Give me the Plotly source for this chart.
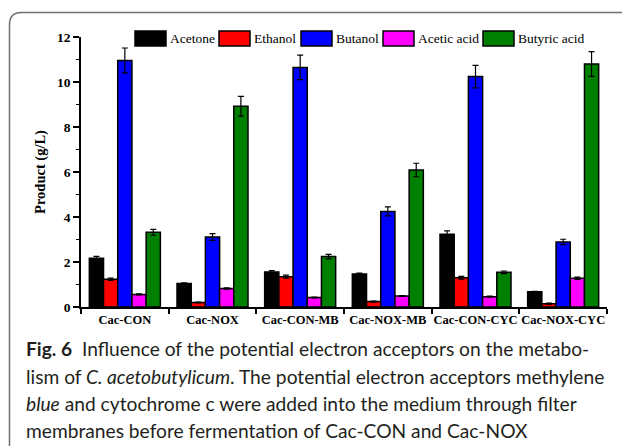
import plotly.graph_objects as go

categories = ["Cac-CON", "Cac-NOX", "Cac-CON-MB", "Cac-NOX-MB", "Cac-CON-CYC", "Cac-NOX-CYC"]
series_names = ["Acetone", "Ethanol", "Butanol", "Acetic acid", "Butyric acid"]
series_colors = ["#000000", "#ff0000", "#0000ff", "#ff00ff", "#008000"]

acetone = [2.17, 1.04, 1.56, 1.47, 3.23, 0.68]
acetone_err = [0.08, 0.03, 0.06, 0.04, 0.15, 0.02]
ethanol = [1.23, 0.20, 1.35, 0.24, 1.30, 0.15]
ethanol_err = [0.05, 0.02, 0.07, 0.02, 0.06, 0.02]
butanol = [10.96, 3.11, 10.65, 4.25, 10.24, 2.89]
butanol_err = [0.55, 0.15, 0.54, 0.20, 0.50, 0.12]
acetic = [0.56, 0.82, 0.42, 0.49, 0.46, 1.28]
acetic_err = [0.02, 0.03, 0.02, 0.02, 0.02, 0.05]
butyric = [3.32, 8.92, 2.24, 6.09, 1.54, 10.80]
butyric_err = [0.13, 0.44, 0.10, 0.30, 0.06, 0.55]

values = [acetone, ethanol, butanol, acetic, butyric]
errors = [acetone_err, ethanol_err, butanol_err, acetic_err, butyric_err]

caption_lines = [
    "<b>Fig. 6</b>  Influence of the potential electron acceptors on the metabo-",
    "lism of <i>C. acetobutylicum</i>. The potential electron acceptors methylene",
    "<i>blue</i> and cytochrome c were added into the medium through filter",
    "membranes before fermentation of Cac-CON and Cac-NOX",
]

W, H = 622, 446
ML, MR, MT, MB = 81, 15, 37, 139
PW = W - ML - MR
PH = H - MT - MB

def px(x):
    return (x - ML) / PW

def py(y):
    return (H - MB - y) / PH

serif = "Liberation Serif"
fig = go.Figure()
for name, col, v, e in zip(series_names, series_colors, values, errors):
    fig.add_trace(go.Bar(
        x=categories, y=v, name=name, showlegend=False,
        marker=dict(color=col, line=dict(color="black", width=1.5)),
        error_y=dict(type="data", array=e, visible=True, color="black",
                     thickness=1.2, width=3),
    ))

fig.update_layout(
    width=W, height=H,
    margin=dict(l=ML, r=MR, t=MT, b=MB),
    paper_bgcolor="white", plot_bgcolor="white",
    barmode="group", bargap=0.19, bargroupgap=0,
    font=dict(family=serif, color="black"),
)
fig.update_xaxes(
    showline=True, linecolor="black", linewidth=1.5, showgrid=False,
    ticks="outside", tickson="boundaries", ticklen=5, tickwidth=1.5, tickcolor="black",
    tickfont=dict(family=serif, size=12.5, color="black"), tickangle=0,
    tickprefix="<b>", ticksuffix="</b>",
    range=[-0.5, 5.5],
)
fig.update_yaxes(
    range=[0, 12], showline=True, linecolor="black", linewidth=1.5, showgrid=False,
    zeroline=False, ticks="outside", ticklen=6, tickwidth=1.5, tickcolor="black",
    dtick=2, tickfont=dict(family=serif, size=13.5, color="black"),
    tickprefix="<b>", ticksuffix="</b>",
    minor=dict(dtick=1, ticks="outside", ticklen=3, tickwidth=1.2, tickcolor="black"),
    title=dict(text="<b>Product (g/L)</b>", font=dict(family=serif, size=14.5, color="black"), standoff=8),
)

# custom legend with large swatches
legend_left = [135, 219, 301, 383, 483]
sw_w, sw_h, leg_y = 31, 15, 38.5
for name, col, lx in zip(series_names, series_colors, legend_left):
    fig.add_shape(type="rect", xref="paper", yref="paper",
                  x0=px(lx), x1=px(lx + sw_w), y0=py(leg_y - sw_h / 2), y1=py(leg_y + sw_h / 2),
                  fillcolor=col, line=dict(color="black", width=1.5))
    fig.add_annotation(text=name, xref="paper", yref="paper", x=px(lx + sw_w + 2), y=py(leg_y),
                       xanchor="left", yanchor="middle", showarrow=False,
                       font=dict(family=serif, size=13.5, color="black"))

# rounded frame around the figure
r = 12
x0, y0, y1 = 9.5, 12.5, 452
path = (f"M {px(W+5)},{py(y0)} L {px(x0+r)},{py(y0)} "
        f"Q {px(x0)},{py(y0)} {px(x0)},{py(y0+r)} "
        f"L {px(x0)},{py(y1)}")
fig.add_shape(type="path", path=path, xref="paper", yref="paper",
              line=dict(color="#707070", width=1.5))

line_centers = [349, 376, 403, 430]
for txt, yc in zip(caption_lines, line_centers):
    fig.add_annotation(text=txt, xref="paper", yref="paper", x=px(24), y=py(yc),
                       xanchor="left", yanchor="middle", align="left", showarrow=False,
                       font=dict(family="Lato", size=19.2, color="#231f20"))

fig.write_html("out.html", config={"displayModeBar": False},
               post_script="document.body.style.margin='0';")
